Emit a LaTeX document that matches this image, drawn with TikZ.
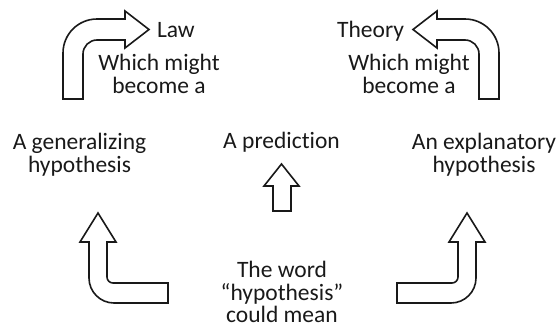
\documentclass[tikz,border=0pt]{standalone}
\usepackage{fontspec}
\setmainfont[Ligatures={NoCommon,TeX}]{Carlito}
\begin{document}
\begin{tikzpicture}[x=1pt,y=-1pt,
  blockarrow/.style={draw=black!90, line width=1.6pt, line join=miter, fill=white},
  label/.style={inner sep=0pt, outer sep=0pt, align=center, text=black!90,
    font=\fontsize{23.5}{22.5}\selectfont}]
\useasboundingbox (0,0) rectangle (559,327);
% top-left bent arrow
\draw[blockarrow] (63,99) -- (63,53) .. controls (63,34.2) and (78.2,19) .. (97,19)
  -- (125,19) -- (125,11) -- (149,29.5) -- (125,48) -- (125,40) -- (97,40)
  .. controls (89.3,40) and (83,46.3) .. (83,54) -- (83,99) -- cycle;
% top-right bent arrow
\draw[blockarrow] (499,99) -- (499,53) .. controls (499,34.2) and (483.8,19) .. (465,19)
  -- (437,19) -- (437,11) -- (413,29.5) -- (437,48) -- (437,40) -- (465,40)
  .. controls (472.7,40) and (479,46.3) .. (479,54) -- (479,99) -- cycle;
% bottom-left bent arrow
\draw[blockarrow] (89,242) -- (89,278) .. controls (89,291.8) and (100.2,303) .. (114,303)
  -- (168,303) -- (168,283) -- (113,283) .. controls (109.7,283) and (107,280.3) .. (107,277)
  -- (107,242) -- (116,242) -- (98,213) -- (80,242) -- cycle;
% bottom-right bent arrow
\draw[blockarrow] (476,242) -- (476,278) .. controls (476,291.8) and (464.8,303) .. (451,303)
  -- (397,303) -- (397,283) -- (452,283) .. controls (455.3,283) and (458,280.3) .. (458,277)
  -- (458,242) -- (449,242) -- (467,213) -- (485,242) -- cycle;
% centre arrow
\draw[blockarrow] (273,211) -- (273,186) -- (264,186) -- (281.5,164) -- (299,186)
  -- (291,186) -- (291,211) -- cycle;
% texts (base anchor = baseline of last line)
\node[label, anchor=base west] (law) at (157,37) {Law};
\node[label, anchor=base east] (theory) at (404,37) {Theory};
\node[label, anchor=base] (wl) at (159,93) {Which might\\become a};
\node[label, anchor=base] (wr) at (409,93) {Which might\\become a};
\node[label, anchor=base] (gen) at (79.5,172) {A generalizing\\hypothesis};
\node[label, anchor=base] (pred) at (281.5,148) {A prediction};
\node[label, anchor=base] (expl) at (484,172) {An explanatory\\hypothesis};
\node[label, anchor=base] (word) at (282,322.5) {The word\\“hypothesis”\\could mean};
\end{tikzpicture}
\end{document}
